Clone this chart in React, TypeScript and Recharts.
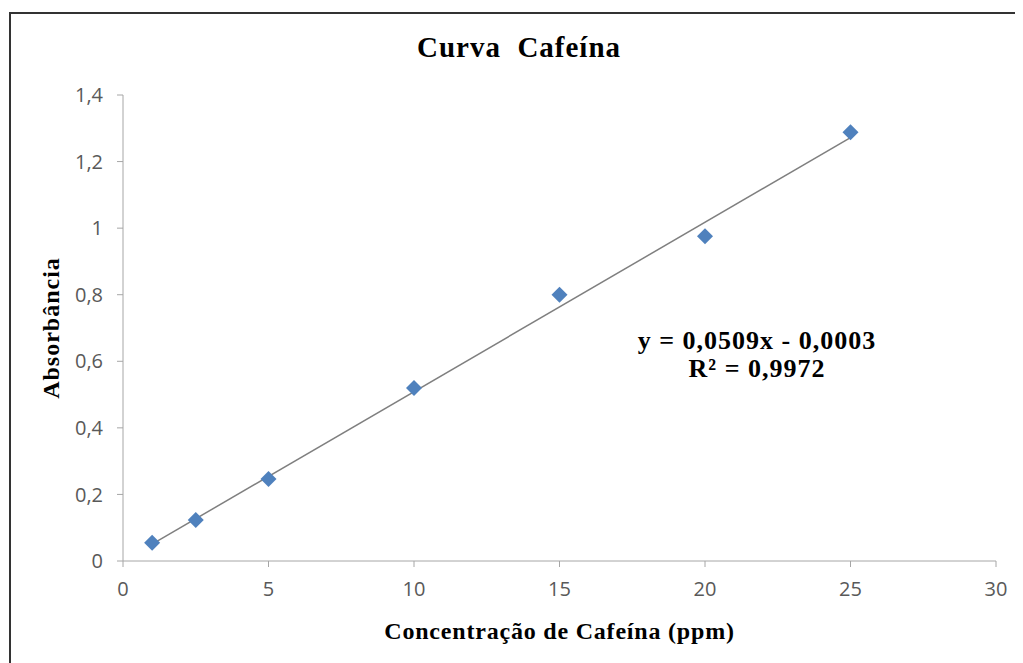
import React from "react";
import {
  ScatterChart,
  Scatter,
  XAxis,
  YAxis,
  Label,
} from "recharts";

// concentrations (ppm) and absorbances
const concentrations = [1, 2.5, 5, 10, 15, 20, 25];
const absorbances = [0.055, 0.123, 0.246, 0.52, 0.8, 0.976, 1.288];

// linear trendline endpoints (y = 0,0509x - 0,0003)
const trendX = [1, 25];
const trendY = [0.0506, 1.2722];

const xTicks = [0, 5, 10, 15, 20, 25, 30];
const yTicks = [0, 0.2, 0.4, 0.6, 0.8, 1, 1.2, 1.4];

const title = "Curva  Cafeína";
const xLabel = "Concentração de Cafeína (ppm)";
const yLabel = "Absorbância";
const equation = "y = 0,0509x - 0,0003";
const rSquared = "R² = 0,9972";

const points = concentrations.map((x, i) => ({ x, y: absorbances[i] }));
const trend = trendX.map((x, i) => ({ x, y: trendY[i] }));

const serif = "'Liberation Serif', 'Times New Roman', serif";
const sans = "'Open Sans', 'Noto Sans', sans-serif";

const fmtY = (v: number) =>
  Number.isInteger(v) ? String(v) : v.toFixed(1).replace(".", ",");

// Excel-style diamond marker
const Diamond = (props: any) => {
  const { cx, cy } = props;
  const r = 8;
  return (
    <path
      d={`M${cx},${cy - r} L${cx + r},${cy} L${cx},${cy + r} L${cx - r},${cy} Z`}
      fill="#4F81BD"
    />
  );
};

const NoMarker = () => <g />;

export default function App() {
  return (
    <div
      style={{
        position: "relative",
        marginLeft: 1,
        marginTop: 4,
        width: 1014,
        height: 651,
        borderLeft: "2px solid #333",
        borderTop: "2px solid #333",
        background: "#fff",
      }}
    >
      {/* Title */}
      <div
        style={{
          position: "absolute",
          left: 508,
          top: 16,
          transform: "translateX(-50%)",
          fontFamily: serif,
          fontWeight: "bold",
          fontSize: 29,
          letterSpacing: 1,
          lineHeight: "34px",
          whiteSpace: "pre",
          color: "#000",
        }}
      >
        {title}
      </div>

      <ScatterChart
        width={1010}
        height={645}
        margin={{ top: 81, right: 25, left: 52, bottom: 38 }}
        style={{ position: "absolute", left: 0, top: 0 }}
      >
        <XAxis
          type="number"
          dataKey="x"
          domain={[0, 30]}
          ticks={xTicks}
          height={60}
          stroke="#A6A6A6"
          tickSize={6}
          tickMargin={15}
          tick={{ fill: "#595959", fontFamily: sans, fontSize: 20 }}
        >
          <Label
            value={xLabel}
            position="insideBottom"
            offset={-18}
            style={{
              fontFamily: serif,
              fontWeight: "bold",
              fontSize: 24,
              letterSpacing: 0.8,
              fill: "#000",
            }}
          />
        </XAxis>
        <YAxis
          type="number"
          dataKey="y"
          domain={[0, 1.4]}
          ticks={yTicks}
          width={60}
          stroke="#A6A6A6"
          tickSize={6}
          tickMargin={14}
          tickFormatter={fmtY}
          tick={{ fill: "#595959", fontFamily: sans, fontSize: 20 }}
        >
          <Label
            value={yLabel}
            angle={-90}
            position="insideLeft"
            offset={-13}
            style={{
              fontFamily: serif,
              fontWeight: "bold",
              fontSize: 24,
              letterSpacing: 1,
              fill: "#000",
              textAnchor: "middle",
            }}
          />
        </YAxis>
        <Scatter
          data={trend}
          line={{ stroke: "#7F7F7F", strokeWidth: 1.5 }}
          shape={NoMarker}
          isAnimationActive={false}
        />
        <Scatter data={points} shape={Diamond} isAnimationActive={false} />
      </ScatterChart>

      {/* Trendline equation */}
      <div
        style={{
          position: "absolute",
          left: 746,
          top: 313,
          transform: "translateX(-50%)",
          textAlign: "center",
          fontFamily: serif,
          fontWeight: "bold",
          fontSize: 26,
          letterSpacing: 1,
          lineHeight: "28px",
          whiteSpace: "nowrap",
          color: "#000",
        }}
      >
        <div>{equation}</div>
        <div>{rSquared}</div>
      </div>
    </div>
  );
}
